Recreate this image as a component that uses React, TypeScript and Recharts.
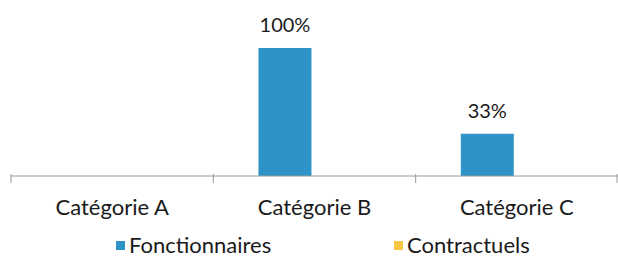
import React from "react";
import { BarChart, Bar, XAxis, YAxis, Legend, LabelList } from "recharts";

const categories = ["Catégorie A", "Catégorie B", "Catégorie C"];
const fonctionnaires = [0, 100, 33];
const contractuels = [0, 0, 0];
const seriesNames = ["Fonctionnaires", "Contractuels"];
const colors = ["#2E93C6", "#F7C744"];

const data = categories.map((c, i) => ({
  name: c,
  f: fonctionnaires[i],
  c: contractuels[i],
}));

const FONT = "Lato, 'Open Sans', sans-serif";
const CHART_W = 618;
const CHART_H = 257;
const M = { top: 48, right: 0, left: 11, bottom: 0 };
const PLOT_W = CHART_W - M.left - M.right;
const BAND = PLOT_W / categories.length;

const Tick = (props: any) => {
  const { x, y, payload, index } = props;
  const axisY = y - 8;
  const left = x - BAND / 2;
  const right = x + BAND / 2 - 1;
  return (
    <g>
      <line x1={left} y1={axisY - 2} x2={left} y2={axisY + 7} stroke="#9a9a9a" strokeWidth={1} />
      {index === categories.length - 1 && (
        <line x1={right} y1={axisY - 2} x2={right} y2={axisY + 7} stroke="#9a9a9a" strokeWidth={1} />
      )}
      <text x={x} y={axisY + 39} textAnchor="middle" fontSize={22} fontFamily={FONT} fill="#1a1a1a">
        {payload.value}
      </text>
    </g>
  );
};

const LegendContent = () => {
  const items = [
    { name: seriesNames[0], color: colors[0], left: 105 },
    { name: seriesNames[1], color: colors[1], left: 383 },
  ];
  return (
    <div style={{ position: "relative", width: PLOT_W, height: 31 }}>
      {items.map((it) => (
        <div
          key={it.name}
          style={{
            position: "absolute",
            left: it.left,
            top: 8,
            height: 22,
            lineHeight: "22px",
            display: "flex",
            alignItems: "center",
            fontFamily: FONT,
            fontSize: 22,
            color: "#1a1a1a",
            whiteSpace: "nowrap",
          }}
        >
          <span style={{ width: 9, height: 9, background: it.color, display: "inline-block", marginRight: 4 }} />
          <span>{it.name}</span>
        </div>
      ))}
    </div>
  );
};

const fmt = (v: any) => (v ? `${v}%` : "");

export default function App() {
  return (
    <div style={{ position: "absolute", left: 0, top: 0, width: CHART_W, height: CHART_H, background: "#fff" }}>
      <BarChart
        width={CHART_W}
        height={CHART_H}
        data={data}
        margin={M}
        barCategoryGap="22.3%"
        barGap={6}
      >
        <XAxis
          dataKey="name"
          height={50}
          tickLine={false}
          axisLine={{ stroke: "#9a9a9a" }}
          tick={<Tick />}
          interval={0}
        />
        <YAxis hide domain={[0, 100]} />
        <Legend verticalAlign="bottom" height={31} content={<LegendContent />} />
        <Bar dataKey="f" name={seriesNames[0]} fill={colors[0]} isAnimationActive={false}>
          <LabelList dataKey="f" position="top" offset={16} formatter={fmt} fontSize={20} fontFamily={FONT} fill="#1a1a1a" />
        </Bar>
        <Bar dataKey="c" name={seriesNames[1]} fill={colors[1]} isAnimationActive={false}>
          <LabelList dataKey="c" position="top" offset={16} formatter={fmt} fontSize={20} fontFamily={FONT} fill="#1a1a1a" />
        </Bar>
      </BarChart>
    </div>
  );
}
